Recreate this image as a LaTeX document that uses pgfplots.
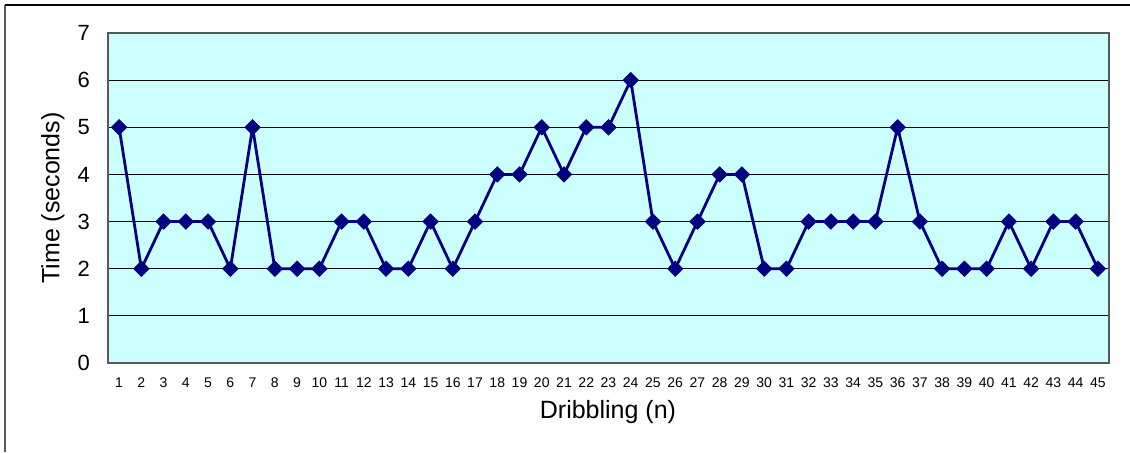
\documentclass[border=0pt]{standalone}
\usepackage{fontspec}
\setmainfont{Liberation Sans}
\usepackage{pgfplots}
\pgfplotsset{compat=1.18}
\definecolor{bgc}{HTML}{CCFFFF}
\definecolor{navy}{HTML}{000080}
\begin{document}
\begin{tikzpicture}[x=0.5pt,y=0.5pt]
\path[use as bounding box] (0,0) rectangle (1130,452);
\draw[gray!70!black, line width=0.8pt] (5,0) -- (5,447);
\draw[black, line width=0.8pt] (5,447) -- (1130,447);
\begin{axis}[
  at={(108pt*0.5,89pt*0.5)}, anchor=south west,
  scale only axis, width=500.5pt, height=165pt,
  xmin=0.5, xmax=45.5, ymin=0, ymax=7,
  axis background/.style={fill=bgc},
  axis line style={draw=black!65, line width=1pt},
  xtick={1,...,45}, ytick={0,...,7},
  major tick length=0pt,
  ymajorgrids, grid style={black, line width=0.6pt},
  /pgf/number format/assume math mode=true,
  xticklabel style={font=\fontsize{7}{8}\selectfont, yshift=-4pt},
  yticklabel style={font=\fontsize{11}{12}\selectfont, xshift=-5.5pt},
  xlabel={Dribbling (n)}, ylabel={Time (seconds)},
  label style={font=\fontsize{12.5}{14}\selectfont},
  xlabel style={at={(axis description cs:0.4995,-0.1667)}, anchor=base},
  ylabel style={at={(axis description cs:-0.055,0.5)}, anchor=center},
  clip=false,
]
\addplot[navy, line width=1.4pt, mark=square*, mark size=2.7pt, mark options={rotate=45, fill=navy, line width=0.4pt}] coordinates {
(1,5)(2,2)(3,3)(4,3)(5,3)(6,2)(7,5)(8,2)(9,2)(10,2)
(11,3)(12,3)(13,2)(14,2)(15,3)(16,2)(17,3)(18,4)(19,4)(20,5)
(21,4)(22,5)(23,5)(24,6)(25,3)(26,2)(27,3)(28,4)(29,4)(30,2)
(31,2)(32,3)(33,3)(34,3)(35,3)(36,5)(37,3)(38,2)(39,2)(40,2)
(41,3)(42,2)(43,3)(44,3)(45,2)};
\end{axis}
\end{tikzpicture}
\end{document}
